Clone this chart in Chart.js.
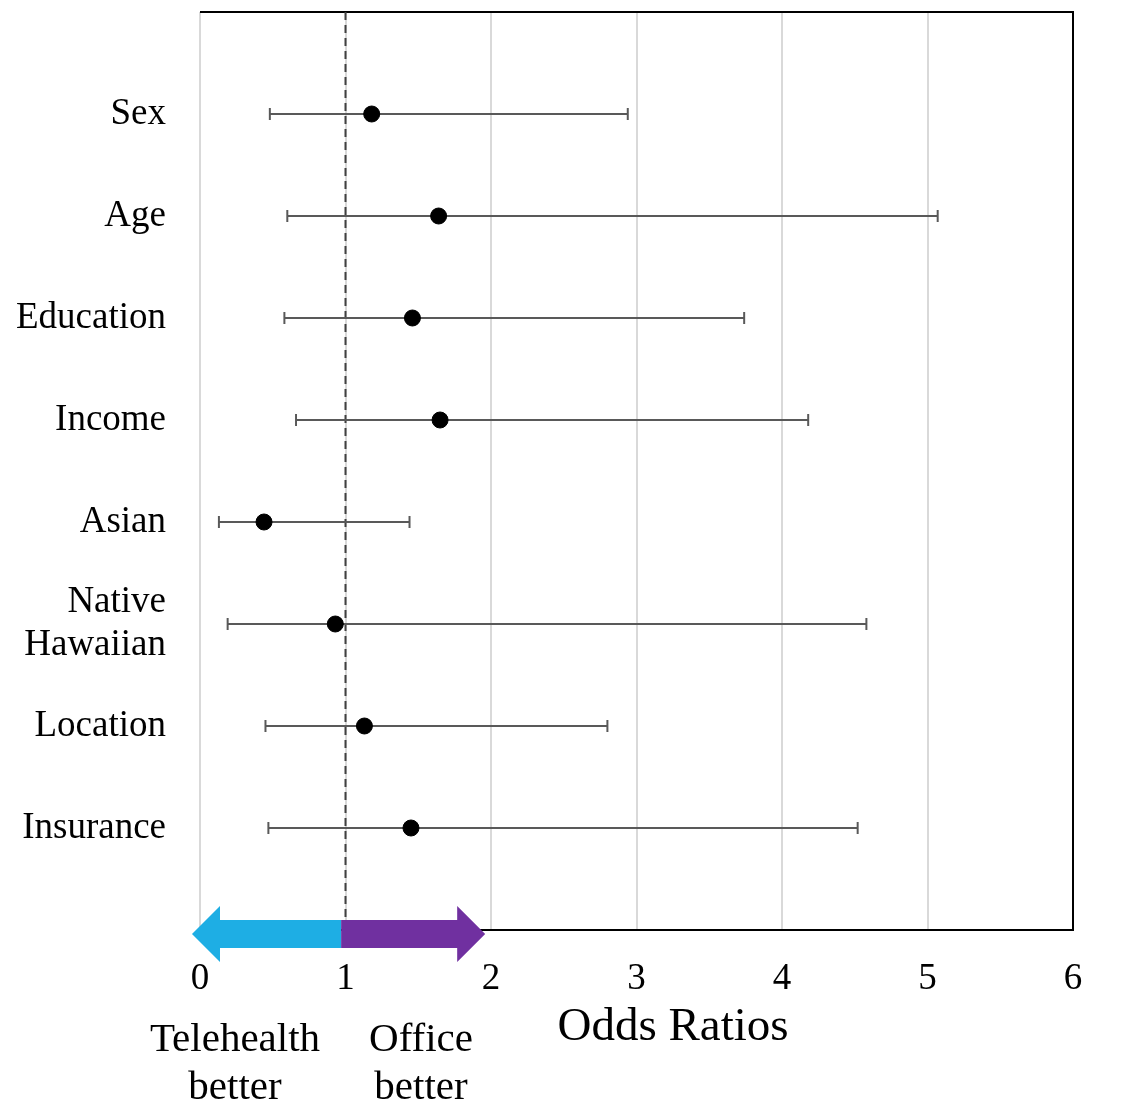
<!DOCTYPE html>
<html lang="en">
<head>
    <meta charset="UTF-8">
    <title>Odds Ratios</title>
    <script src="https://cdn.jsdelivr.net/npm/chart.js"></script>
    <style>
        body {
            margin: 0;
            background: #ffffff;
        }

        #chartBox {
            width: 1124px;
            height: 1111px;
        }
    </style>
</head>
<body>
    <div id="chartBox">
        <canvas id="orChart" width="1124" height="1111"></canvas>
    </div>

    <script>
        // Data
        const categories = ['Sex', 'Age', 'Education', 'Income', 'Asian', ['Native', 'Hawaiian'], 'Location', 'Insurance'];
        const oddsRatios = [1.18, 1.64, 1.46, 1.65, 0.44, 0.93, 1.13, 1.45];
        const ciLow = [0.48, 0.60, 0.58, 0.66, 0.13, 0.19, 0.45, 0.47];
        const ciHigh = [2.94, 5.07, 3.74, 4.18, 1.44, 4.58, 2.80, 4.52];
        const xTicks = [0, 1, 2, 3, 4, 5, 6];

        const serif = '"Liberation Serif", "Times New Roman", serif';
        const barColor = '#595959';

        // One small line dataset per row for the confidence interval
        const ciSets = categories.map((c, i) => ({
            type: 'line',
            data: [{ x: ciLow[i], y: i + 1 }, { x: ciHigh[i], y: i + 1 }],
            borderColor: barColor,
            borderWidth: 2,
            pointStyle: 'line',
            rotation: 90,
            pointRadius: 6,
            pointHoverRadius: 6,
            pointBorderColor: barColor,
            pointBorderWidth: 2,
            order: 2
        }));

        const pointSet = {
            type: 'scatter',
            data: oddsRatios.map((v, i) => ({ x: v, y: i + 1 })),
            backgroundColor: '#000000',
            borderColor: '#000000',
            pointRadius: 8,
            pointHoverRadius: 8,
            order: 1
        };

        // Frame, reference line, arrows and captions
        const decorPlugin = {
            id: 'decor',
            beforeDatasetsDraw(chart) {
                const ctx = chart.ctx;
                const a = chart.chartArea;
                const xs = chart.scales.x;
                ctx.save();
                ctx.strokeStyle = '#000000';
                ctx.lineWidth = 2;
                ctx.beginPath();
                ctx.moveTo(a.left, a.top);
                ctx.lineTo(a.right, a.top);
                ctx.lineTo(a.right, a.bottom);
                ctx.stroke();

                const x1 = xs.getPixelForValue(1);
                ctx.strokeStyle = '#404040';
                ctx.setLineDash([8, 5]);
                ctx.beginPath();
                ctx.moveTo(x1, a.top);
                ctx.lineTo(x1, a.bottom);
                ctx.stroke();
                ctx.restore();
            },
            afterDraw(chart) {
                const ctx = chart.ctx;
                const a = chart.chartArea;
                const xs = chart.scales.x;
                const cy = a.bottom + 4;
                const body = 14, head = 28, headLen = 28;
                const tipL = xs.getPixelForValue(-0.055);
                const mid = xs.getPixelForValue(0.97);
                const tipR = xs.getPixelForValue(1.96);

                ctx.save();
                // left arrow (telehealth)
                ctx.fillStyle = '#1EAEE4';
                ctx.beginPath();
                ctx.moveTo(tipL, cy);
                ctx.lineTo(tipL + headLen, cy - head);
                ctx.lineTo(tipL + headLen, cy - body);
                ctx.lineTo(mid, cy - body);
                ctx.lineTo(mid, cy + body);
                ctx.lineTo(tipL + headLen, cy + body);
                ctx.lineTo(tipL + headLen, cy + head);
                ctx.closePath();
                ctx.fill();

                // right arrow (office)
                ctx.fillStyle = '#7030A0';
                ctx.beginPath();
                ctx.moveTo(tipR, cy);
                ctx.lineTo(tipR - headLen, cy - head);
                ctx.lineTo(tipR - headLen, cy - body);
                ctx.lineTo(mid, cy - body);
                ctx.lineTo(mid, cy + body);
                ctx.lineTo(tipR - headLen, cy + body);
                ctx.lineTo(tipR - headLen, cy + head);
                ctx.closePath();
                ctx.fill();

                ctx.fillStyle = '#000000';
                ctx.textAlign = 'center';
                ctx.textBaseline = 'middle';
                ctx.font = '47px ' + serif;
                ctx.fillText('Odds Ratios', 673, 1028);

                ctx.font = '41px ' + serif;
                ctx.fillText('Telehealth', 235, 1040);
                ctx.fillText('better', 235, 1088);
                ctx.fillText('Office', 421, 1040);
                ctx.fillText('better', 421, 1088);
                ctx.restore();
            }
        };

        new Chart(document.getElementById('orChart'), {
            type: 'scatter',
            data: { datasets: [...ciSets, pointSet] },
            options: {
                responsive: false,
                maintainAspectRatio: false,
                animation: false,
                events: [],
                layout: { padding: { top: 12, right: 51, left: 0, bottom: 0 } },
                plugins: {
                    legend: { display: false },
                    tooltip: { enabled: false }
                },
                scales: {
                    x: {
                        type: 'linear',
                        min: xTicks[0],
                        max: xTicks[xTicks.length - 1],
                        afterBuildTicks: (axis) => { axis.ticks = xTicks.map(v => ({ value: v })); },
                        afterFit: (axis) => {
                            axis.height = 181;
                            axis.paddingLeft = 0;
                            axis.paddingRight = 0;
                        },
                        grid: { color: '#d9d9d9', lineWidth: 2, drawTicks: false },
                        border: { display: true, color: '#000000', width: 2 },
                        ticks: {
                            padding: 27,
                            color: '#000000',
                            font: { family: serif, size: 37 }
                        }
                    },
                    y: {
                        type: 'linear',
                        min: 0,
                        max: categories.length + 1,
                        reverse: true,
                        afterBuildTicks: (axis) => { axis.ticks = categories.map((c, i) => ({ value: i + 1 })); },
                        afterFit: (axis) => {
                            axis.width = 200;
                            axis.paddingTop = 0;
                            axis.paddingBottom = 0;
                        },
                        grid: { display: false, drawTicks: false },
                        border: { display: false },
                        ticks: {
                            padding: 34,
                            color: '#000000',
                            font: { family: serif, size: 37, lineHeight: 1.15 },
                            callback: (v) => categories[v - 1] || ''
                        }
                    }
                }
            },
            plugins: [decorPlugin]
        });
    </script>
</body>
</html>
